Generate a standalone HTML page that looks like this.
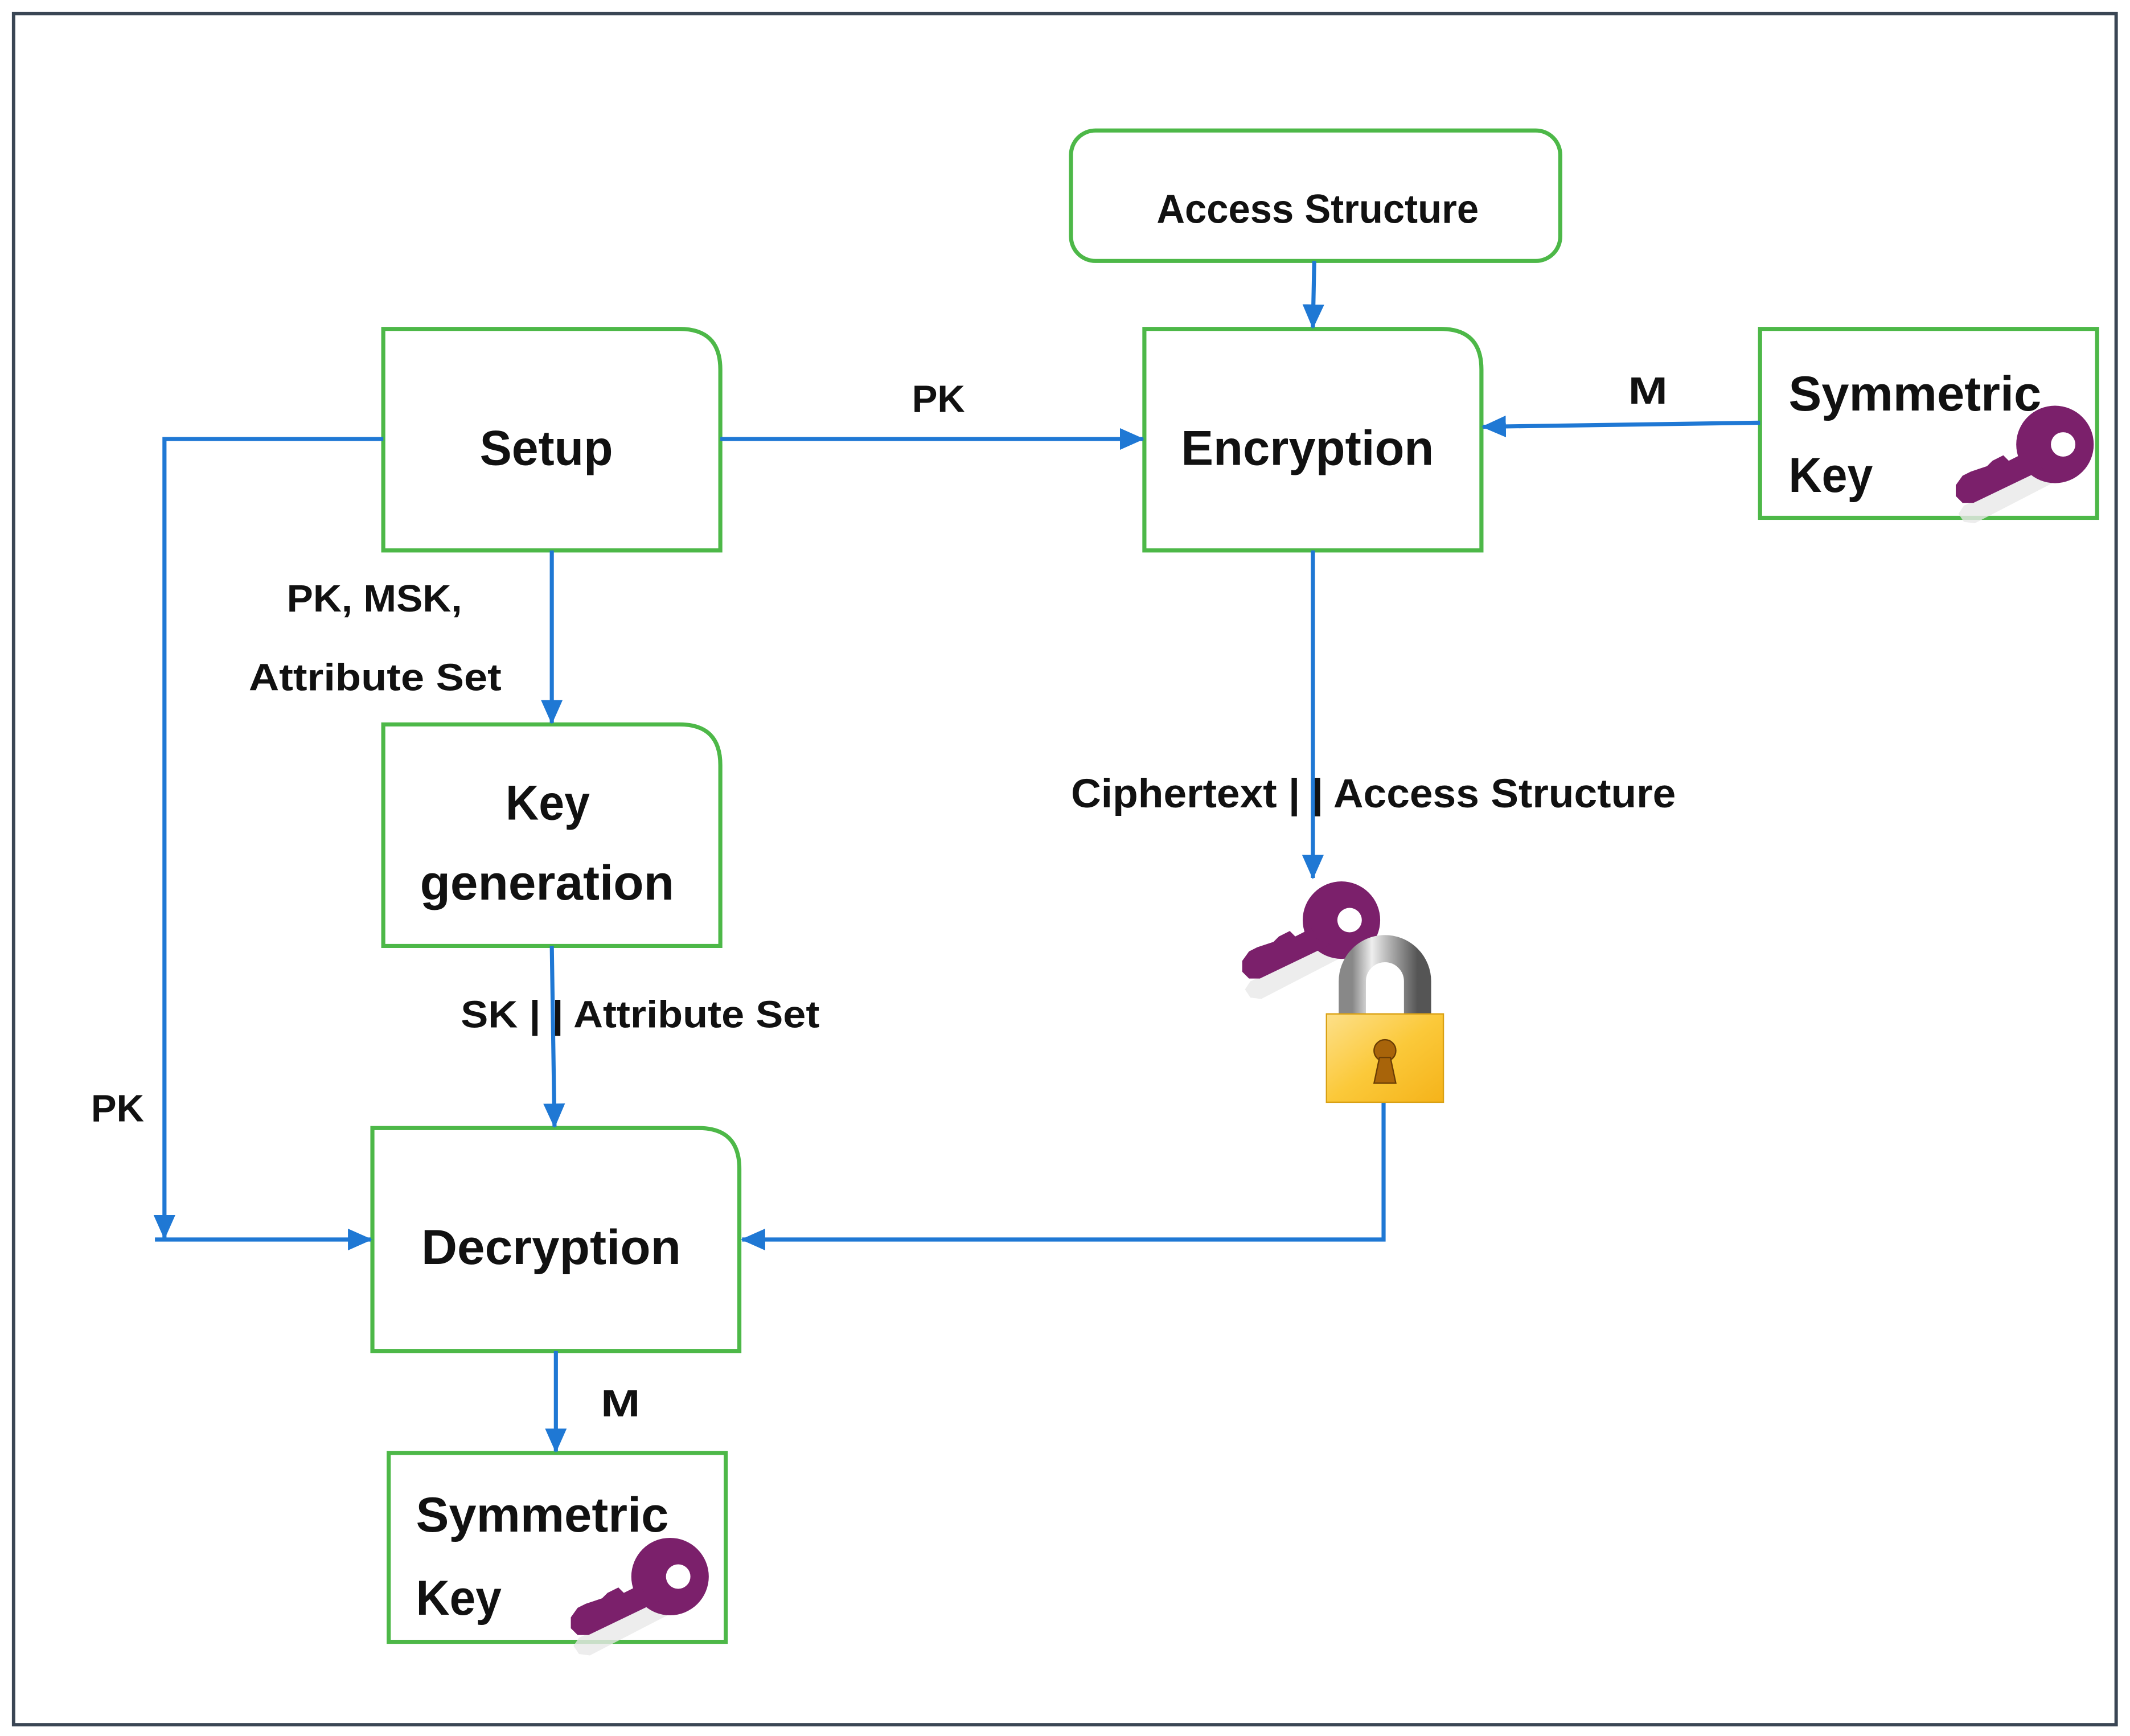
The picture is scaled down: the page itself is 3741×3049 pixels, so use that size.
<!DOCTYPE html>
<html><head><meta charset="utf-8"><style>
html,body{margin:0;padding:0;background:#fff}
svg{display:block}
text{font-family:"Liberation Sans",sans-serif;font-weight:bold;fill:#111}
</style></head><body>
<svg width="3741" height="3049" viewBox="0 0 1567.2 1277.3" xmlns="http://www.w3.org/2000/svg">
<defs>
<marker id="ah" markerWidth="18" markerHeight="16" refX="17" refY="8" orient="auto" markerUnits="userSpaceOnUse" viewBox="0 0 18 16">
<path d="M0,0 L18,8 L0,16 z" fill="#1f78d4"/></marker>
<g id="key">
<path d="M-8,12 L-70,40 L-74,46 L-70,52 L-62,53 L-2,22 z" fill="#e8e8e8" transform="translate(3,5)" opacity="0.8"/>
<circle cx="0" cy="0" r="28.5" fill="#7b206b"/>
<path d="M-18,14 L-22,6 L-34,12 L-38,8 L-46,12 L-50,16 L-56,18 L-62,20 L-68,23 L-73,30 L-73,38 L-68,43 L-60,43 L-8,18 z" fill="#7b206b"/>
<circle cx="6" cy="0" r="9" fill="#fff"/>
</g>
<linearGradient id="gold" x1="0" y1="0" x2="1" y2="1"><stop offset="0" stop-color="#fde08a"/><stop offset="0.5" stop-color="#fbc93a"/><stop offset="1" stop-color="#f5b31a"/></linearGradient>
<linearGradient id="steel" x1="0" y1="0" x2="1" y2="0"><stop offset="0" stop-color="#888"/><stop offset="0.3" stop-color="#eee"/><stop offset="0.6" stop-color="#aaa"/><stop offset="1" stop-color="#555"/></linearGradient>
</defs>
<rect x="10" y="10" width="1547" height="1259" fill="#fff" stroke="#3a4654" stroke-width="2.5"/>

<g fill="none" stroke="#4db848" stroke-width="3">
<rect x="788" y="96" width="360" height="96" rx="18"/>
<path d="M282,242 H500 Q530,242 530,272 V405 H282 z"/>
<path d="M842,242 H1060 Q1090,242 1090,272 V405 H842 z"/>
<path d="M282,533 H500 Q530,533 530,563 V696 H282 z"/>
<path d="M274,830 H514 Q544,830 544,860 V994 H274 z"/>
<rect x="1295" y="242" width="248" height="139"/>
<rect x="286" y="1069" width="248" height="139"/>
</g>

<g stroke="#1f78d4" stroke-width="3" fill="none">
<line x1="967" y1="192" x2="966" y2="241" marker-end="url(#ah)"/>
<line x1="530" y1="323" x2="841" y2="323" marker-end="url(#ah)"/>
<line x1="1295" y1="311" x2="1091" y2="314" marker-end="url(#ah)"/>
<line x1="406" y1="405" x2="406" y2="532" marker-end="url(#ah)"/>
<polyline points="282,323 121,323 121,911" marker-end="url(#ah)"/>
<line x1="114" y1="912" x2="273" y2="912" marker-end="url(#ah)"/>
<line x1="406" y1="696" x2="408" y2="829" marker-end="url(#ah)"/>
<line x1="966" y1="405" x2="966" y2="646" marker-end="url(#ah)"/>
<polyline points="1018,810 1018,912 546,912" marker-end="url(#ah)"/>
<line x1="409" y1="994" x2="409" y2="1068" marker-end="url(#ah)"/>
</g>

<text x="851" y="164" font-size="30" textLength="237" lengthAdjust="spacingAndGlyphs">Access Structure</text>
<text x="353" y="342" font-size="36" textLength="98" lengthAdjust="spacingAndGlyphs">Setup</text>
<text x="869" y="342" font-size="36" textLength="186" lengthAdjust="spacingAndGlyphs">Encryption</text>
<text x="1316" y="302" font-size="36" textLength="186" lengthAdjust="spacingAndGlyphs">Symmetric</text>
<text x="1316" y="362" font-size="36" textLength="62" lengthAdjust="spacingAndGlyphs">Key</text>
<text x="372" y="603" font-size="36" textLength="62" lengthAdjust="spacingAndGlyphs">Key</text>
<text x="309" y="662" font-size="36" textLength="187" lengthAdjust="spacingAndGlyphs">generation</text>
<text x="310" y="930" font-size="36" textLength="191" lengthAdjust="spacingAndGlyphs">Decryption</text>
<text x="306" y="1127" font-size="36" textLength="186" lengthAdjust="spacingAndGlyphs">Symmetric</text>
<text x="306" y="1188" font-size="36" textLength="63" lengthAdjust="spacingAndGlyphs">Key</text>
<text x="671" y="303" font-size="28" textLength="39" lengthAdjust="spacingAndGlyphs">PK</text>
<text x="1198" y="297" font-size="28" textLength="29" lengthAdjust="spacingAndGlyphs">M</text>
<text x="211" y="450" font-size="28" textLength="129" lengthAdjust="spacingAndGlyphs">PK, MSK,</text>
<text x="183" y="508" font-size="28" textLength="186" lengthAdjust="spacingAndGlyphs">Attribute Set</text>
<text x="339" y="756" font-size="28" textLength="264" lengthAdjust="spacingAndGlyphs">SK | | Attribute Set</text>
<text x="788" y="594" font-size="30" textLength="445" lengthAdjust="spacingAndGlyphs">Ciphertext | | Access Structure</text>
<text x="67" y="825" font-size="28" textLength="39" lengthAdjust="spacingAndGlyphs">PK</text>
<text x="442" y="1042" font-size="28" textLength="29" lengthAdjust="spacingAndGlyphs">M</text>

<use href="#key" transform="translate(1512,327)"/>
<use href="#key" transform="translate(493,1160)"/>
<use href="#key" transform="translate(987,677)"/>

<path d="M995,747 V722 A24,24 0 0 1 1043,722 V747" fill="none" stroke="url(#steel)" stroke-width="20"/>
<rect x="976" y="746" width="86" height="65" fill="url(#gold)" stroke="#d9a014" stroke-width="1"/>
<circle cx="1019" cy="773" r="8" fill="#a8640a" stroke="#6b3e05" stroke-width="1"/>
<path d="M1015,778 L1011,797 L1027,797 L1023,778 z" fill="#a8640a" stroke="#6b3e05" stroke-width="1"/>
</svg>
</body></html>
